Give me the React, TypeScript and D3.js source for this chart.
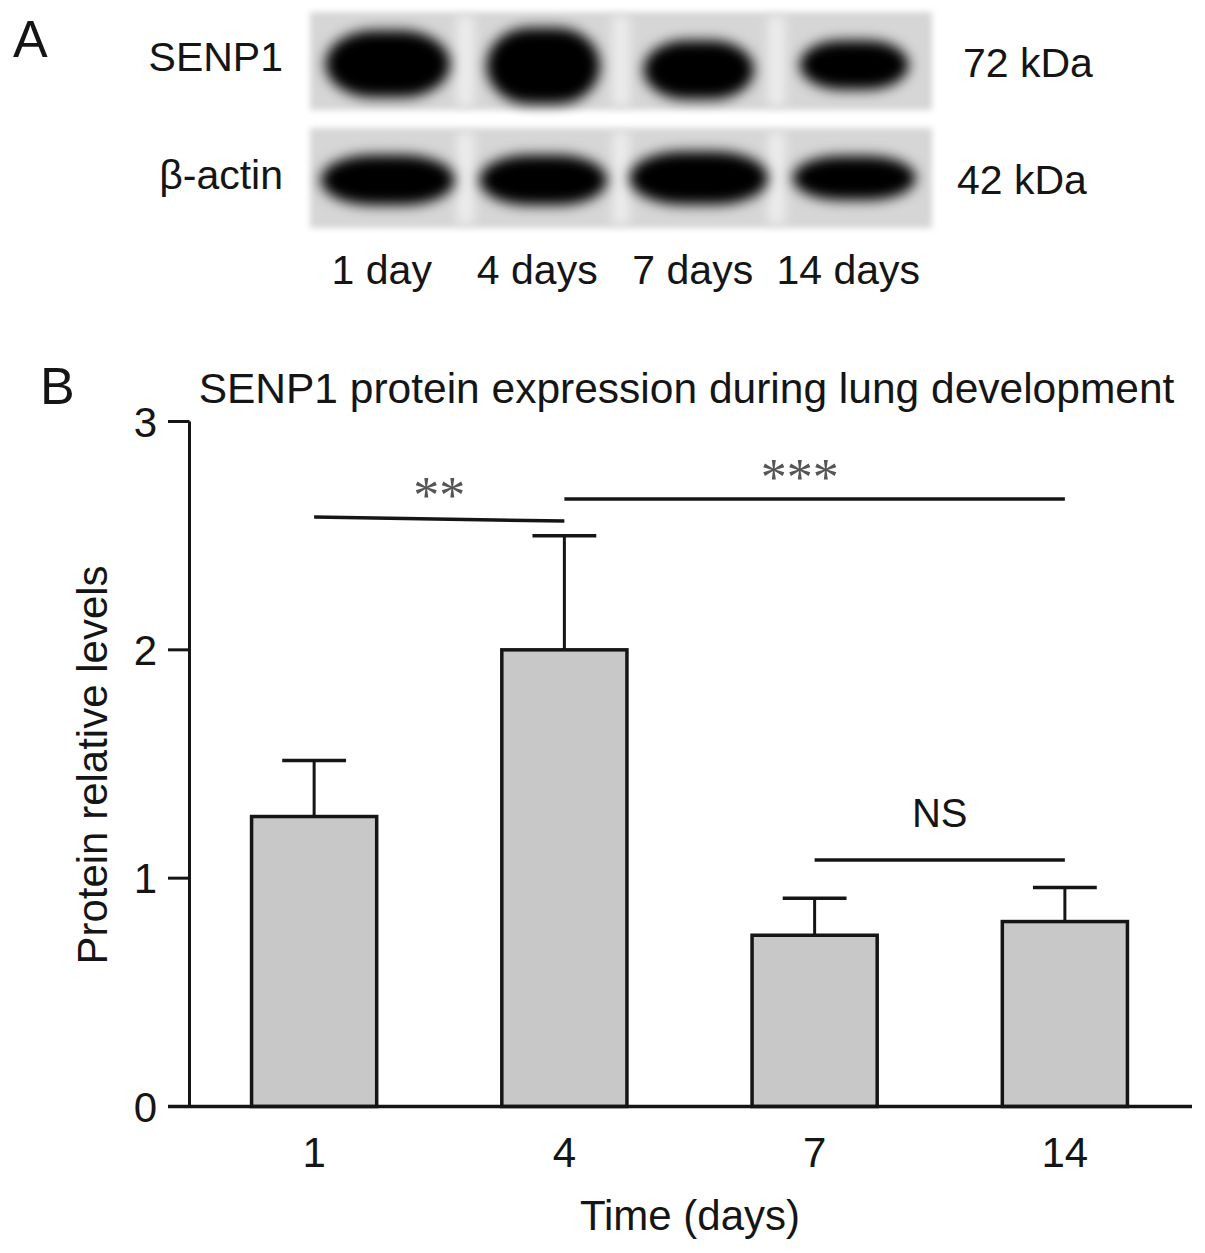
import React from "react";
import * as d3 from "d3";

// ---------- Panel A data (western blot) ----------
const laneLabels = ["1 day", "4 days", "7 days", "14 days"];
const blotRows = ["SENP1", "β-actin"];
const blotMarkers = ["72 kDa", "42 kDa"];
// band extents relative to lane step (w) and strip height (h), vertical centre (cy)
const senp1Bands = [
  { w: 0.8, h: 0.68, cy: 0.53 },
  { w: 0.73, h: 0.78, cy: 0.55 },
  { w: 0.71, h: 0.6, cy: 0.59 },
  { w: 0.7, h: 0.5, cy: 0.54 },
];
const actinBands = [
  { w: 0.86, h: 0.5, cy: 0.52 },
  { w: 0.82, h: 0.5, cy: 0.52 },
  { w: 0.89, h: 0.53, cy: 0.5 },
  { w: 0.79, h: 0.44, cy: 0.5 },
];

// ---------- Panel B data (bar chart) ----------
const categories = ["1", "4", "7", "14"];
const means = [1.27, 2.0, 0.75, 0.81];
const errors = [0.245, 0.5, 0.162, 0.149];
const yTicks = [0, 1, 2, 3];
const comparisons = [
  { a: 0, b: 1, y1: 2.582, y2: 2.564, label: "**" },
  { a: 1, b: 3, y1: 2.661, y2: 2.661, label: "***" },
  { a: 2, b: 3, y1: 1.08, y2: 1.08, label: "NS" },
];

const FONT = "'Liberation Sans', Arial, Helvetica, sans-serif";
const INK = "#151515";

export default function App() {
  const W = 1205;
  const H = 1253;

  // Panel A geometry
  const lane = d3.scaleBand<string>().domain(laneLabels).range([310, 932]).padding(0);
  const strips = [
    { top: 12, bottom: 110, bands: senp1Bands },
    { top: 128, bottom: 228, bands: actinBands },
  ];

  // Panel B scales
  const x = d3
    .scaleBand<string>()
    .domain(categories)
    .range([189, 1190])
    .paddingInner(0.5)
    .paddingOuter(0.25);
  const y = d3.scaleLinear().domain([0, 3]).range([1106.5, 421.5]);
  const cx = (i: number) => (x(categories[i]) as number) + x.bandwidth() / 2;
  const capW = x.bandwidth() * 0.51;

  return (
    <svg
      width={W}
      height={H}
      viewBox={`0 0 ${W} ${H}`}
      style={{ position: "absolute", left: 0, top: 0, display: "block", background: "#fff" }}
      fontFamily={FONT}
    >
      <defs>
        <filter id="bandBlur" x="-30%" y="-60%" width="160%" height="220%">
          <feGaussianBlur stdDeviation="6.5" />
        </filter>
        <filter id="bgBlur" x="-5%" y="-20%" width="110%" height="140%">
          <feGaussianBlur stdDeviation="3" />
        </filter>
        <filter id="gapBlur" x="-100%" y="-10%" width="300%" height="120%">
          <feGaussianBlur stdDeviation="6" />
        </filter>
      </defs>
      <rect width={W} height={H} fill="#fff" />

      {/* ---------- Panel A ---------- */}
      <text x={13} y={57} fontSize={52} fill={INK}>A</text>
      {strips.map((s, si) => {
        const hgt = s.bottom - s.top;
        const x0 = lane.range()[0];
        const x1 = lane.range()[1];
        return (
          <g key={si}>
            <rect x={x0} y={s.top} width={x1 - x0} height={hgt} fill="#d6d6d6" filter="url(#bgBlur)" />
            {laneLabels.slice(1).map((l) => (
              <rect
                key={l}
                x={(lane(l) as number) - 8}
                y={s.top + 4}
                width={16}
                height={hgt - 8}
                fill="#eeeeee"
                filter="url(#gapBlur)"
              />
            ))}
            {s.bands.map((b, i) => {
              const c = (lane(laneLabels[i]) as number) + lane.bandwidth() / 2;
              const bw = b.w * lane.bandwidth();
              const bh = b.h * hgt;
              const cy = s.top + b.cy * hgt;
              return (
                <rect
                  key={i}
                  x={c - bw / 2}
                  y={cy - bh / 2}
                  width={bw}
                  height={bh}
                  rx={bw / 2.6}
                  ry={bh / 2}
                  fill="#000"
                  filter="url(#bandBlur)"
                />
              );
            })}
            <text x={283} y={si === 0 ? 71 : 189} fontSize={41} textAnchor="end" fill={INK}>
              {blotRows[si]}
            </text>
            <text x={si === 0 ? 963 : 957} y={si === 0 ? 77 : 194} fontSize={41} fill={INK}>
              {blotMarkers[si]}
            </text>
          </g>
        );
      })}
      {laneLabels.map((l) => (
        <text
          key={l}
          x={(lane(l) as number) + lane.bandwidth() / 2 - 6}
          y={284}
          fontSize={41}
          textAnchor="middle"
          fill={INK}
        >
          {l}
        </text>
      ))}

      {/* ---------- Panel B ---------- */}
      <text x={40} y={404} fontSize={52} fill={INK}>B</text>
      <text x={686.5} y={403} fontSize={42.5} textAnchor="middle" fill={INK}>
        SENP1 protein expression during lung development
      </text>

      {/* y axis */}
      <line x1={189.5} x2={189.5} y1={y(3)} y2={y(0)} stroke={INK} strokeWidth={3} />
      {yTicks.map((t) => (
        <g key={t}>
          <line x1={168} x2={189.5} y1={y(t)} y2={y(t)} stroke={INK} strokeWidth={3} />
          <text x={157} y={y(t)} dy="0.36em" fontSize={42} textAnchor="end" fill={INK}>
            {t}
          </text>
        </g>
      ))}
      <text
        transform={`translate(107,765) rotate(-90)`}
        fontSize={42}
        textAnchor="middle"
        fill={INK}
      >
        Protein relative levels
      </text>

      {/* bars */}
      {categories.map((c, i) => (
        <g key={c}>
          <line
            x1={cx(i)}
            x2={cx(i)}
            y1={y(means[i])}
            y2={y(means[i] + errors[i])}
            stroke={INK}
            strokeWidth={3}
          />
          <line
            x1={cx(i) - capW / 2}
            x2={cx(i) + capW / 2}
            y1={y(means[i] + errors[i])}
            y2={y(means[i] + errors[i])}
            stroke={INK}
            strokeWidth={3.5}
          />
          <rect
            x={x(c) as number}
            y={y(means[i])}
            width={x.bandwidth()}
            height={y(0) - y(means[i])}
            fill="#c8c8c8"
            stroke={INK}
            strokeWidth={3.5}
          />
        </g>
      ))}

      {/* x axis */}
      <line x1={168} x2={1192} y1={y(0)} y2={y(0)} stroke={INK} strokeWidth={3.5} />
      {categories.map((c, i) => (
        <text key={c} x={cx(i)} y={1167} fontSize={42} textAnchor="middle" fill={INK}>
          {c}
        </text>
      ))}
      <text x={690} y={1230} fontSize={42} textAnchor="middle" fill={INK}>
        Time (days)
      </text>

      {/* significance annotations */}
      {comparisons.map((cmp, k) => {
        const xa = cx(cmp.a);
        const xb = cx(cmp.b);
        const isStar = cmp.label.startsWith("*");
        const ly = Math.min(y(cmp.y1), y(cmp.y2));
        return (
          <g key={k}>
            <line x1={xa} x2={xb} y1={y(cmp.y1)} y2={y(cmp.y2)} stroke={INK} strokeWidth={3.5} />
            <text
              x={(xa + xb) / 2 - (cmp.label === "***" ? 15 : 0)}
              y={isStar ? ly - 4 : ly - 33}
              fontSize={isStar ? 52 : 40}
              fontFamily={isStar ? "'Liberation Serif', 'Times New Roman', serif" : FONT}
              textAnchor="middle"
              fill={isStar ? "#555555" : INK}
            >
              {cmp.label}
            </text>
          </g>
        );
      })}
    </svg>
  );
}
